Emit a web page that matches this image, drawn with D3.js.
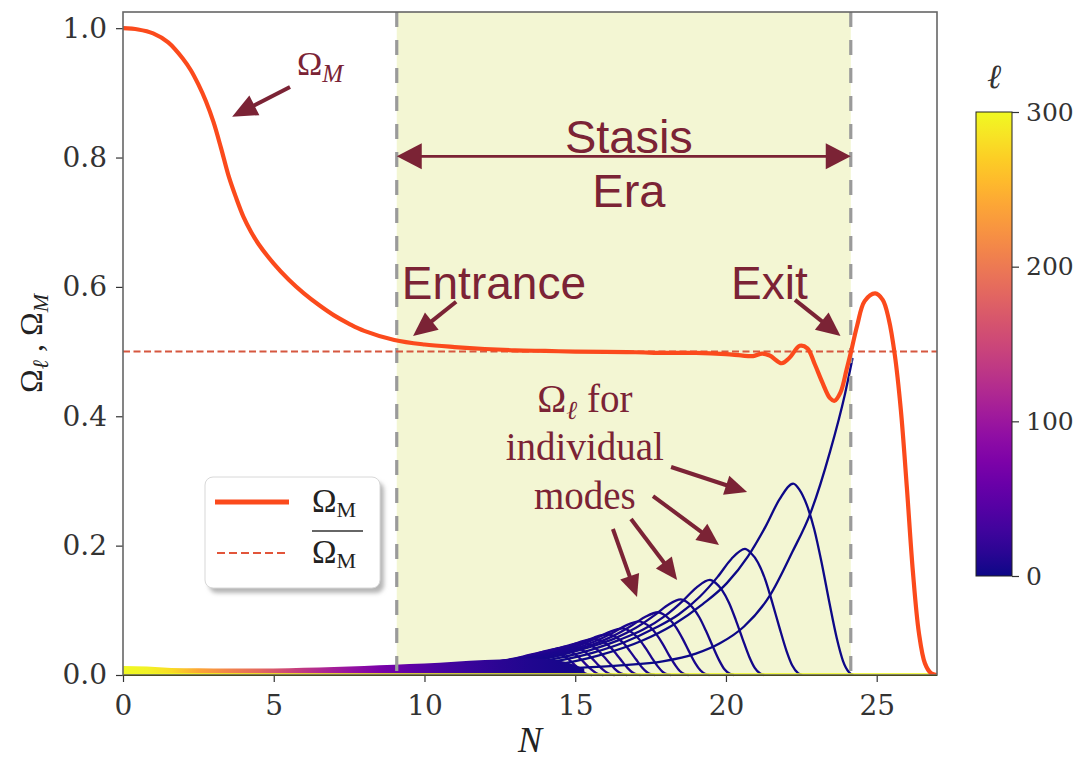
<!DOCTYPE html>
<html lang="en">
<head>
<meta charset="UTF-8">
<title>Stasis era modes</title>
<script src="https://d3js.org/d3.v7.min.js"></script>
<style>
  body { margin: 0; background: #fff; }
  svg { display: block; }
</style>
</head>
<body>
<div id="chart"></div>
<script>
// ---- data ----
const omegaMN = [0, 0.5, 1, 1.5, 2, 2.25, 2.5, 2.75, 3, 3.25, 3.5, 3.75, 4, 4.25, 4.5, 5, 5.5, 6, 6.5, 7, 7.5, 8,
  9, 10, 11, 12, 13, 14, 15, 16, 17, 18, 19, 20, 20.5, 20.9, 21.2, 21.45, 21.85, 22.1, 22.45, 22.7,
  22.95, 23.2, 23.45, 23.6, 23.8, 24, 24.15, 24.35, 24.6, 24.95, 25.2, 25.4, 25.6, 25.8, 26, 26.2, 26.4, 26.6, 26.8, 27];
const omegaMV = [1.0, 0.998, 0.992, 0.978, 0.952, 0.935, 0.913, 0.887, 0.855, 0.815, 0.772, 0.738, 0.708, 0.685, 0.666, 0.636, 0.611, 0.59, 0.572, 0.556, 0.543, 0.532,
  0.518, 0.511, 0.507, 0.504, 0.502, 0.501, 0.5, 0.4995, 0.499, 0.498, 0.498, 0.496, 0.494, 0.493, 0.497, 0.494, 0.482, 0.49, 0.509, 0.505,
  0.48, 0.452, 0.428, 0.424, 0.437, 0.472, 0.5, 0.54, 0.578, 0.59, 0.58, 0.55, 0.495, 0.41, 0.29, 0.16, 0.065, 0.018, 0.003, 0];
const omegaBar = 0.5;
const stasisStart = 9.08, stasisEnd = 24.14;

const xTicks = [0, 5, 10, 15, 20, 25];
const yTicks = [0, 0.2, 0.4, 0.6, 0.8, 1.0];
const cbTicks = [0, 100, 200, 300];

// thin band of the many high-l modes near zero (top edge and which l sits on top)
const bandN   = [0, 0.8, 1.6, 2.5, 3.5, 4.5, 5.5, 6.5, 7.5, 8.5, 9.5, 10.5, 11.5, 12.5, 13.5, 14.5, 15.3];
const bandTop = [0.014, 0.013, 0.011, 0.0105, 0.010, 0.010, 0.0105, 0.0115, 0.013, 0.015, 0.017, 0.019, 0.022, 0.024, 0.026, 0.022, 0.01];
const bandEll = [300, 295, 280, 240, 210, 185, 150, 120, 95, 72, 52, 36, 24, 15, 9, 5, 3];

// individual low-l modes, [N, Omega_l]
const mode0 = [[9,0.0013],[11,0.003],[13,0.0065],[15,0.011],[16.5,0.015],[17.9,0.021],[19,0.033],[19.8,0.049],[20.6,0.075],[21.46,0.123],[22.2,0.19],[22.8,0.25],[23.45,0.345],[23.95,0.435],[24.2,0.49]];
const mode1 = [[12.23,0.0053],[14.23,0.0148],[15.73,0.0296],[17.23,0.0533],[18.23,0.077],[19.23,0.1095],[20.03,0.142],[20.73,0.1835],[21.33,0.231],[21.78,0.272],[22.23,0.296],[22.43,0.287],[22.68,0.263],[22.93,0.225],[23.18,0.172],[23.43,0.112],[23.68,0.056],[23.88,0.022],[24.08,0.0044],[24.23,0]];
const mode2 = [[10.63,0.0035],[12.63,0.0098],[14.13,0.0195],[15.63,0.0351],[16.63,0.0507],[17.63,0.0722],[18.43,0.0936],[19.13,0.1209],[19.73,0.1521],[20.18,0.1794],[20.63,0.195],[20.82,0.189],[21.06,0.174],[21.3,0.148],[21.53,0.113],[21.77,0.074],[22.01,0.037],[22.2,0.0146],[22.39,0.0029],[22.53,0]];
const mode3 = [[9.47,0.0026],[11.47,0.0074],[12.97,0.0147],[14.47,0.0265],[15.47,0.0382],[16.47,0.0544],[17.27,0.0706],[17.97,0.0911],[18.57,0.1147],[19.02,0.1352],[19.47,0.147],[19.65,0.1426],[19.875,0.1308],[20.1,0.1117],[20.325,0.0853],[20.55,0.0559],[20.775,0.0279],[20.955,0.011],[21.135,0.0022],[21.27,0]];
const mode4 = [[8.5,0.0021],[10.5,0.0059],[12,0.0117],[13.5,0.0211],[14.5,0.0304],[15.5,0.0433],[16.3,0.0562],[17,0.0725],[17.6,0.0913],[18.05,0.1076],[18.5,0.117],[18.68,0.1135],[18.9,0.1041],[19.12,0.0889],[19.34,0.0679],[19.56,0.0445],[19.78,0.0222],[19.95,0.0088],[20.13,0.0018],[20.26,0]];
const mode5 = [[7.75,0.0017],[9.75,0.0049],[11.25,0.0097],[12.75,0.0175],[13.75,0.0252],[14.75,0.0359],[15.55,0.0466],[16.25,0.0601],[16.85,0.0757],[17.3,0.0892],[17.75,0.097],[17.92,0.0941],[18.13,0.0863],[18.345,0.0737],[18.56,0.0563],[18.77,0.0369],[18.98,0.0184],[19.15,0.0073],[19.32,0.0015],[19.45,0]];
const mode6 = [[7.12,0.0015],[9.12,0.0042],[10.62,0.0083],[12.12,0.0149],[13.12,0.0216],[14.12,0.0307],[14.92,0.0398],[15.62,0.0515],[16.22,0.0647],[16.67,0.0764],[17.12,0.083],[17.28,0.0805],[17.49,0.0739],[17.69,0.0631],[17.9,0.0481],[18.1,0.0315],[18.31,0.0158],[18.47,0.0062],[18.64,0.0012],[18.76,0]];
const mode7 = [[6.57,0.0013],[8.57,0.0036],[10.07,0.0072],[11.57,0.013],[12.57,0.0187],[13.57,0.0266],[14.37,0.0346],[15.07,0.0446],[15.67,0.0562],[16.12,0.0662],[16.57,0.072],[16.73,0.0698],[16.93,0.0641],[17.13,0.0547],[17.33,0.0418],[17.53,0.0274],[17.73,0.0137],[17.89,0.0054],[18.05,0.0011],[18.17,0]];
const mode8 = [[6.08,0.0011],[8.08,0.0032],[9.58,0.0063],[11.08,0.0113],[12.08,0.0164],[13.08,0.0233],[13.88,0.0302],[14.58,0.0391],[15.18,0.0491],[15.63,0.058],[16.08,0.063],[16.24,0.0611],[16.43,0.0561],[16.63,0.0479],[16.82,0.0365],[17.02,0.0239],[17.21,0.012],[17.37,0.0047],[17.52,0.0009],[17.64,0]];
const mode9 = [[5.64,0.001],[7.64,0.0028],[9.14,0.0056],[10.64,0.0101],[11.64,0.0146],[12.64,0.0207],[13.44,0.0269],[14.14,0.0347],[14.74,0.0437],[15.19,0.0515],[15.64,0.056],[15.79,0.0543],[15.98,0.0498],[16.17,0.0426],[16.36,0.0325],[16.55,0.0213],[16.74,0.0106],[16.89,0.0042],[17.05,0.0008],[17.16,0]];
const mode10 = [[5.24,0.0009],[7.24,0.0025],[8.74,0.005],[10.24,0.009],[11.24,0.013],[12.24,0.0185],[13.04,0.024],[13.74,0.031],[14.34,0.039],[14.79,0.046],[15.24,0.05],[15.39,0.0485],[15.57,0.0445],[15.76,0.038],[15.94,0.029],[16.13,0.019],[16.31,0.0095],[16.46,0.0038],[16.61,0.0008],[16.72,0]];
const mode11 = [[4.87,0.0008],[6.87,0.0023],[8.37,0.0045],[9.87,0.0081],[10.87,0.0117],[11.87,0.0167],[12.67,0.0216],[13.37,0.0279],[13.97,0.0351],[14.42,0.0414],[14.87,0.045],[15.01,0.0437],[15.19,0.04],[15.37,0.0342],[15.55,0.0261],[15.73,0.0171],[15.91,0.0086],[16.06,0.0034],[16.2,0.0007],[16.31,0]];
const mode12 = [[6.53,0.0021],[8.03,0.0041],[9.53,0.0074],[10.53,0.0107],[11.53,0.0152],[12.33,0.0197],[13.03,0.0254],[13.63,0.032],[14.08,0.0377],[14.53,0.041],[14.67,0.0398],[14.85,0.0365],[15.02,0.0312],[15.2,0.0238],[15.37,0.0156],[15.55,0.0078],[15.69,0.0031],[15.83,0.0006],[15.93,0]];
const mode13 = [[6.2,0.0019],[7.7,0.0037],[9.2,0.0067],[10.2,0.0096],[11.2,0.0137],[12,0.0178],[12.7,0.0229],[13.3,0.0289],[13.75,0.034],[14.2,0.037],[14.34,0.0359],[14.51,0.0329],[14.68,0.0281],[14.85,0.0215],[15.02,0.0141],[15.19,0.007],[15.32,0.0028],[15.46,0.0006],[15.56,0]];
const modes = [mode0, mode1, mode2, mode3, mode4, mode5, mode6, mode7, mode8, mode9, mode10, mode11, mode12, mode13];
const modeEll = [0, 1, 2, 3, 4, 5, 6, 7, 8, 9, 10, 11, 12, 13];

// ---- layout ----
const W = 1076, H = 762;
const maroon = "#7b2335";
const orange = "#fb4a1c";

const x = d3.scaleLinear().domain([0, 27]).range([123, 937]);
const y = d3.scaleLinear().domain([0, 1.025]).range([675, 12]);
const ell = d3.scaleLinear().domain([0, 300]).range([576, 112]);
const plasma = l => d3.interpolatePlasma(l / 300);

const svg = d3.select("#chart").append("svg")
  .attr("width", W).attr("height", H)
  .style("font-family", "'DejaVu Serif', serif");

const defs = svg.append("defs");
defs.append("clipPath").attr("id", "plotClip")
  .append("rect")
  .attr("x", x(0)).attr("y", y(1.025))
  .attr("width", x(27) - x(0)).attr("height", y(0) - y(1.025));

// stasis window
svg.append("rect")
  .attr("x", x(stasisStart)).attr("y", y(1.025))
  .attr("width", x(stasisEnd) - x(stasisStart))
  .attr("height", y(0) - y(1.025))
  .attr("fill", "#f3f6d3");

// individual modes
const modeLine = d3.line()
  .x(d => x(d[0]))
  .y(d => y(d[1]))
  .curve(d3.curveMonotoneX);
svg.append("g")
  .selectAll("path")
  .data(modes.map((m, i) => ({ pts: m, l: modeEll[i] })).reverse())
  .join("path")
  .attr("d", d => modeLine(d.pts))
  .attr("fill", "none")
  .attr("stroke", d => plasma(d.l))
  .attr("stroke-width", 2.3);

// band of high-l modes, coloured by the l on top (drawn after, as matplotlib plots high l last)
const bandGrad = defs.append("linearGradient")
  .attr("id", "bandGrad")
  .attr("gradientUnits", "userSpaceOnUse")
  .attr("x1", x(bandN[0])).attr("x2", x(bandN[bandN.length - 1]))
  .attr("y1", 0).attr("y2", 0);
bandN.forEach((n, i) => {
  bandGrad.append("stop")
    .attr("offset", (n - bandN[0]) / (bandN[bandN.length - 1] - bandN[0]))
    .attr("stop-color", plasma(bandEll[i]));
});
const bandArea = d3.area()
  .x(d => x(d[0]))
  .y0(y(0))
  .y1(d => y(d[1]))
  .curve(d3.curveMonotoneX);
svg.append("path")
  .datum(d3.zip(bandN, bandTop))
  .attr("d", bandArea)
  .attr("fill", "url(#bandGrad)");

// all modes end up at zero: last (yellow) one lies along the axis
svg.append("line")
  .attr("x1", x(0)).attr("x2", x(27))
  .attr("y1", y(0) - 1).attr("y2", y(0) - 1)
  .attr("stroke", plasma(300)).attr("stroke-width", 2).attr("opacity", 0.8);

// stasis boundaries
svg.append("g")
  .selectAll("line")
  .data([stasisStart, stasisEnd])
  .join("line")
  .attr("x1", d => x(d)).attr("x2", d => x(d))
  .attr("y1", y(1.025)).attr("y2", y(0))
  .attr("stroke", "#9a9a9a")
  .attr("stroke-width", 3.2)
  .attr("stroke-dasharray", "15,13");

// mean Omega_M
svg.append("line")
  .attr("x1", x(0)).attr("x2", x(27))
  .attr("y1", y(omegaBar)).attr("y2", y(omegaBar))
  .attr("stroke", "#d6573f").attr("stroke-width", 2)
  .attr("stroke-dasharray", "7,3.5");

// Omega_M
const smoothLine = d3.line()
  .x(d => x(d[0]))
  .y(d => y(d[1]))
  .curve(d3.curveCatmullRom.alpha(0.5));
svg.append("path")
  .datum(d3.zip(omegaMN, omegaMV))
  .attr("d", smoothLine)
  .attr("clip-path", "url(#plotClip)")
  .attr("fill", "none")
  .attr("stroke", orange)
  .attr("stroke-width", 4.2);

// ---- axes ----
const axisStyle = g => {
  g.select(".domain").remove();
  g.selectAll(".tick line").attr("stroke", "#333").attr("stroke-width", 1.2);
  g.selectAll(".tick text")
    .attr("font-family", "'DejaVu Serif', serif")
    .attr("font-size", 28)
    .attr("fill", "#333");
};
svg.append("g")
  .attr("transform", `translate(${x(0)},0)`)
  .call(d3.axisLeft(y).tickValues(yTicks).tickFormat(d3.format(".1f")).tickSize(7).tickPadding(9))
  .call(axisStyle);
svg.append("g")
  .attr("transform", `translate(0,${y(0)})`)
  .call(d3.axisBottom(x).tickValues(xTicks).tickFormat(d3.format("d")).tickSize(7).tickPadding(13))
  .call(axisStyle);

// frame
svg.append("rect")
  .attr("x", x(0)).attr("y", y(1.025))
  .attr("width", x(27) - x(0)).attr("height", y(0) - y(1.025))
  .attr("fill", "none").attr("stroke", "#666").attr("stroke-width", 1.6);
svg.append("line")
  .attr("x1", x(0)).attr("x2", x(27)).attr("y1", y(0) + 0.5).attr("y2", y(0) + 0.5)
  .attr("stroke", "#4a4a20").attr("stroke-width", 1.2);

// axis labels
const yLab = svg.append("text")
  .attr("transform", `translate(42,${(y(0) + y(1.025)) / 2}) rotate(-90)`)
  .attr("text-anchor", "middle")
  .attr("font-family", "'Liberation Serif', serif")
  .attr("font-size", 32)
  .attr("fill", "#222");
yLab.append("tspan").text("Ω");
yLab.append("tspan").attr("font-size", 22).attr("font-style", "italic").attr("dy", 6).text("ℓ");
yLab.append("tspan").attr("dy", -6).text(" ,  Ω");
yLab.append("tspan").attr("font-size", 22).attr("font-style", "italic").attr("dy", 6).text("M");

svg.append("text")
  .attr("x", (x(0) + x(27)) / 2).attr("y", 752)
  .attr("text-anchor", "middle")
  .attr("font-family", "'Liberation Serif', serif")
  .attr("font-style", "italic")
  .attr("font-size", 36)
  .attr("fill", "#222")
  .text("N");

// ---- colour bar ----
const cbX = 976, cbW = 36;
const cbGrad = defs.append("linearGradient")
  .attr("id", "cbGrad").attr("x1", 0).attr("x2", 0).attr("y1", 1).attr("y2", 0);
d3.range(0, 1.0001, 0.05).forEach(t => {
  cbGrad.append("stop").attr("offset", t).attr("stop-color", d3.interpolatePlasma(t));
});
svg.append("rect")
  .attr("x", cbX).attr("y", ell(300))
  .attr("width", cbW).attr("height", ell(0) - ell(300))
  .attr("fill", "url(#cbGrad)")
  .attr("stroke", "#222").attr("stroke-width", 1);
svg.append("g")
  .attr("transform", `translate(${cbX + cbW},0)`)
  .call(d3.axisRight(ell).tickValues(cbTicks).tickSize(7).tickPadding(7))
  .call(axisStyle)
  .call(g => g.selectAll(".tick text").attr("font-size", 25));
svg.append("text")
  .attr("x", cbX + cbW / 2).attr("y", 88)
  .attr("text-anchor", "middle")
  .attr("font-family", "'DejaVu Serif', serif")
  .attr("font-style", "italic")
  .attr("font-size", 34)
  .attr("fill", "#333")
  .text("ℓ");

// ---- legend ----
const lg = svg.append("g").attr("transform", "translate(205,477)");
defs.append("filter").attr("id", "shadow")
  .append("feGaussianBlur").attr("stdDeviation", 2);
lg.append("rect")
  .attr("x", 4).attr("y", 5).attr("width", 175).attr("height", 111).attr("rx", 8)
  .attr("fill", "#b5b5b5").attr("filter", "url(#shadow)");
lg.append("rect")
  .attr("width", 175).attr("height", 111).attr("rx", 8)
  .attr("fill", "#fff").attr("stroke", "#d8d8d8").attr("stroke-width", 1);
lg.append("line").attr("x1", 10).attr("x2", 84).attr("y1", 25).attr("y2", 25)
  .attr("stroke", orange).attr("stroke-width", 5);
lg.append("line").attr("x1", 12).attr("x2", 83).attr("y1", 76).attr("y2", 76)
  .attr("stroke", "#e2553a").attr("stroke-width", 2).attr("stroke-dasharray", "8,4");
const legText = (yy) => {
  const t = lg.append("text").attr("x", 107).attr("y", yy)
    .attr("font-family", "'Liberation Serif', serif").attr("font-size", 33).attr("fill", "#222");
  t.append("tspan").text("Ω");
  t.append("tspan").attr("font-size", 22).attr("dy", 5).text("M");
  return t;
};
legText(35);
legText(86);
lg.append("line").attr("x1", 107).attr("x2", 158).attr("y1", 54).attr("y2", 54)
  .attr("stroke", "#333").attr("stroke-width", 1.3);

// ---- annotations ----
const arrow = (n1, v1, n2, v2, len, half, sw) => {
  const x1 = x(n1), y1 = y(v1), x2 = x(n2), y2 = y(v2);
  const dx = x2 - x1, dy = y2 - y1, d = Math.hypot(dx, dy);
  const ux = dx / d, uy = dy / d;
  const bx = x2 - ux * len, by = y2 - uy * len;
  svg.append("line")
    .attr("x1", x1).attr("y1", y1).attr("x2", bx + ux * 2).attr("y2", by + uy * 2)
    .attr("stroke", maroon).attr("stroke-width", sw);
  svg.append("polygon")
    .attr("points", [[x2, y2], [bx - uy * half, by + ux * half], [bx + uy * half, by - ux * half]].map(p => p.join(",")).join(" "))
    .attr("fill", maroon);
};

const sans = "'Liberation Sans', Arial, sans-serif";
const label = (n, v, txt, anchor, size, fam) =>
  svg.append("text").attr("x", x(n)).attr("y", y(v))
    .attr("text-anchor", anchor).attr("font-family", fam)
    .attr("font-size", size).attr("fill", maroon).text(txt);

// stasis era
const midStasis = (stasisStart + stasisEnd) / 2;
svg.append("line")
  .attr("x1", x(stasisStart) + 20).attr("x2", x(stasisEnd) - 20)
  .attr("y1", y(0.802)).attr("y2", y(0.802))
  .attr("stroke", maroon).attr("stroke-width", 2.5);
arrow(midStasis, 0.802, stasisStart, 0.802, 25, 13, 2.5);
arrow(midStasis, 0.802, stasisEnd, 0.802, 25, 13, 2.5);
label(16.78, 0.807, "Stasis", "middle", 47, sans);
label(16.78, 0.7235, "Era", "middle", 47, sans);

label(9.25, 0.582, "Entrance", "start", 46, sans);
label(20.17, 0.582, "Exit", "start", 46, sans);
arrow(11.05, 0.577, 9.62, 0.524, 24, 11, 4);
arrow(22.29, 0.58, 23.8, 0.524, 24, 11, 4);

// Omega_M pointer
const om = svg.append("text").attr("x", x(5.77)).attr("y", y(0.928))
  .attr("font-family", "'Liberation Serif', serif").attr("font-size", 34).attr("fill", maroon);
om.append("tspan").text("Ω");
om.append("tspan").attr("font-size", 25).attr("font-style", "italic").attr("dy", 7).text("M");
arrow(5.54, 0.909, 3.62, 0.863, 25, 11, 4);

// individual modes
const serif = "'Liberation Serif', serif";
const ml = svg.append("text").attr("x", x(15.32)).attr("y", y(0.4066))
  .attr("text-anchor", "middle").attr("font-family", serif).attr("font-size", 39).attr("fill", maroon);
ml.append("tspan").text("Ω");
ml.append("tspan").attr("font-size", 26).attr("font-style", "italic").attr("dy", 7).text("ℓ");
ml.append("tspan").attr("dy", -7).text("  for");
label(15.32, 0.3324, "individual", "middle", 39, serif);
label(15.32, 0.2573, "modes", "middle", 39, serif);

arrow(18.18, 0.3216, 20.70, 0.2829, 22, 10, 4);
arrow(17.58, 0.2767, 19.77, 0.201, 22, 10, 4);
arrow(16.85, 0.2412, 18.38, 0.1469, 22, 10, 4);
arrow(16.25, 0.2257, 17.05, 0.1206, 22, 10, 4);
</script>
</body>
</html>
